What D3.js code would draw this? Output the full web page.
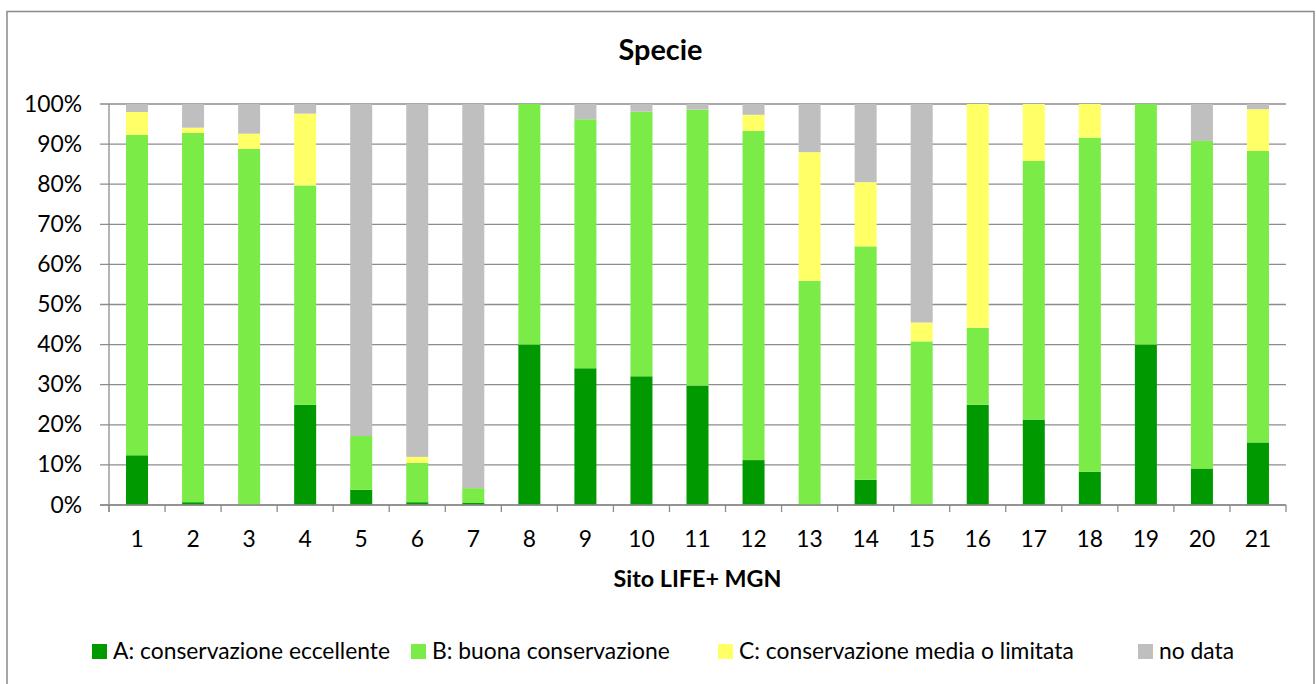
<!DOCTYPE html>
<html><head><meta charset="utf-8">
<script src="https://cdn.jsdelivr.net/npm/d3@7"></script>
<style>html,body{margin:0;padding:0;background:#fff;}svg{display:block;}</style>
</head><body>
<script>
const sites = ["1","2","3","4","5","6","7","8","9","10","11","12","13","14","15","16","17","18","19","20","21"];
const seriesNames = ["A: conservazione eccellente","B: buona conservazione","C: conservazione media o limitata","no data"];
const valuesA = [12.4,0.7,0,25,3.8,0.7,0.5,40,34.1,32.1,29.8,11.2,0,6.3,0,25,21.3,8.3,40,9.1,15.6];
const valuesB = [79.9,92.1,88.8,54.7,13.4,9.8,3.7,60,62.1,66,68.8,82.1,55.9,58.2,40.8,19.2,64.5,83.3,60,81.7,72.7];
const valuesC = [5.7,1.3,3.8,17.9,0,1.5,0,0,0,0,0,4,32.1,16,4.7,55.8,14.2,8.4,0,0,10.4];
const valuesD = [2,5.9,7.4,2.4,82.8,88,95.8,0,3.8,1.9,1.4,2.7,12,19.5,54.5,0,0,0,0,9.2,1.3];
const yTicks = [0,10,20,30,40,50,60,70,80,90,100];
const chartTitle = "Specie";
const xTitle = "Sito LIFE+ MGN";
const colors = ["#009900","#7BEB47","#FFFF66","#BFBFBF"];

const W = 1316, H = 684;
const svg = d3.select("body").append("svg").attr("width", W).attr("height", H);
const FONT = "Lato, 'Open Sans', sans-serif";

svg.append("rect").attr("x",7).attr("y",11.5).attr("width",1307).attr("height",700)
  .attr("fill","#fff").attr("stroke","#888").attr("stroke-width",1.5);

const rows = sites.map((s,i)=>({site:s, s0:valuesA[i], s1:valuesB[i], s2:valuesC[i], s3:valuesD[i]}));
const keys = ["s0","s1","s2","s3"];
const stacked = d3.stack().keys(keys)(rows);

const x0 = 109, x1 = 1286;
const pad = 1 - 22/((x1-x0)/sites.length);
const x = d3.scaleBand().domain(sites).range([x0,x1]).paddingInner(pad).paddingOuter(pad/2);
const y = d3.scaleLinear().domain([0,100]).range([505,104]);

// gridlines
svg.append("g").selectAll("line").data(yTicks).join("line")
  .attr("x1",100).attr("x2",x1).attr("y1",d=>y(d)).attr("y2",d=>y(d))
  .attr("stroke","#8c8c8c").attr("stroke-width",1.3);
// y-axis line
svg.append("line").attr("x1",x0).attr("x2",x0).attr("y1",y(100)).attr("y2",512)
  .attr("stroke","#8c8c8c").attr("stroke-width",1.3);
// x ticks at band boundaries
const step = x.step();
svg.append("g").selectAll("line").data(d3.range(sites.length+1)).join("line")
  .attr("x1",d=>x0+d*step).attr("x2",d=>x0+d*step).attr("y1",505).attr("y2",512)
  .attr("stroke","#8c8c8c").attr("stroke-width",1.3);

// bars
svg.append("g").selectAll("g").data(stacked).join("g")
  .attr("fill",(d,i)=>colors[i])
  .selectAll("rect").data(d=>d).join("rect")
  .attr("x",d=>x(d.data.site)).attr("width",x.bandwidth())
  .attr("y",d=>y(d[1])).attr("height",d=>Math.max(0,y(d[0])-y(d[1])));

// redraw axis baseline over bars
svg.append("line").attr("x1",100).attr("x2",x1).attr("y1",y(0)).attr("y2",y(0))
  .attr("stroke","#8c8c8c").attr("stroke-width",1.3);

// font fit helper
function fitSize(text, weight, target){
  const t = svg.append("text").attr("font-family",FONT).attr("font-weight",weight)
    .attr("font-size",20).text(text);
  const w = t.node().getComputedTextLength(); t.remove();
  return 20*target/w;
}
const labelSize = fitSize(seriesNames[0], "normal", 277);
const titleSize = fitSize(chartTitle, "bold", 84);
const xTitleSize = fitSize(xTitle, "bold", 168);

// y labels
svg.append("g").selectAll("text").data(yTicks).join("text")
  .attr("x",82).attr("y",d=>y(d)+7.5).attr("text-anchor","end")
  .attr("font-family",FONT).attr("font-size",labelSize).attr("fill","#000")
  .text(d=>d+"%");
// x labels
svg.append("g").selectAll("text").data(sites).join("text")
  .attr("x",d=>x(d)+x.bandwidth()/2).attr("y",547).attr("text-anchor","middle")
  .attr("font-family",FONT).attr("font-size",labelSize).attr("fill","#000")
  .text(d=>d);

svg.append("text").attr("x",(x0+x1)/2).attr("y",587).attr("text-anchor","middle")
  .attr("font-family",FONT).attr("font-weight","bold").attr("font-size",xTitleSize).text(xTitle);
svg.append("text").attr("x",660.5).attr("y",60).attr("text-anchor","middle")
  .attr("font-family",FONT).attr("font-weight","bold").attr("font-size",titleSize).text(chartTitle);

// legend
const legendX = [92, 411, 718, 1138];
const lg = svg.append("g").selectAll("g").data(seriesNames).join("g")
  .attr("transform",(d,i)=>`translate(${legendX[i]},644)`);
lg.append("rect").attr("width",15).attr("height",15).attr("fill",(d,i)=>colors[i]);
lg.append("text").attr("x",21).attr("y",15).attr("font-family",FONT)
  .attr("font-size",labelSize).attr("fill","#000").text(d=>d);
</script>
</body></html>
